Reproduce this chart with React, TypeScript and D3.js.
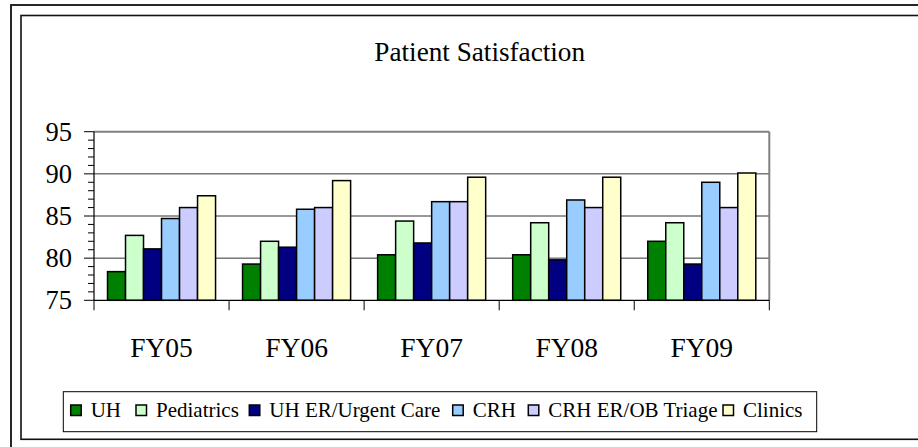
import React from "react";
import * as d3 from "d3";

const categories = ["FY05", "FY06", "FY07", "FY08", "FY09"];
const seriesNames = ["UH", "Pediatrics", "UH ER/Urgent Care", "CRH", "CRH ER/OB Triage", "Clinics"];
const uh = [78.4, 79.3, 80.4, 80.4, 82.0];
const pediatrics = [82.7, 82.0, 84.4, 84.2, 84.2];
const uhEr = [81.1, 81.3, 81.8, 79.8, 79.3];
const crh = [84.7, 85.8, 86.7, 86.9, 89.0];
const crhEr = [86.0, 86.0, 86.7, 86.0, 86.0];
const clinics = [87.4, 89.2, 89.6, 89.6, 90.1];
const yTicks = [75, 80, 85, 90, 95];
const colors = ["#008000", "#CCFFCC", "#000080", "#99CCFF", "#CCCCFF", "#FFFFCC"];
const seriesValues = [uh, pediatrics, uhEr, crh, crhEr, clinics];

const legendX = [70.7, 136, 249.3, 452.7, 528.3, 723];

const FONT = "Liberation Serif, Times New Roman, Times, serif";

export default function App() {
  const W = 918, H = 447;
  const left = 94, right = 769.3, top = 131.7, bottom = 300.3;
  const x = d3.scaleBand<string>().domain(categories).range([left, right]).padding(0);
  const y = d3.scaleLinear().domain([75, 95]).range([bottom, top]);
  const gw = x.bandwidth();
  const bw = gw / 7.5;
  const inner = d3.scaleBand<string>().domain(seriesNames).range([0.75 * bw, 6.75 * bw]).padding(0);
  const minor = d3.range(75, 96, 1).filter((v) => v % 5 !== 0);
  const gridColor = "#333";
  const ts = { fontFamily: FONT };

  return (
    <svg width={W} height={H} style={{ position: "absolute", left: 0, top: 0, background: "#fff", fontFamily: FONT }}>
      <rect x={0} y={0} width={W} height={H} fill="#fff" />
      {/* frames */}
      <rect x={11} y={5} width={1000} height={1000} fill="none" stroke="#111" strokeWidth={1.8} />
      <rect x={21} y={15.5} width={1000} height={423.8} fill="none" stroke="#111" strokeWidth={1.6} />

      {/* title */}
      <text x={479.7} y={61} textAnchor="middle" fontSize={27.2} fill="#000" style={ts}>
        Patient Satisfaction
      </text>

      {/* gridlines */}
      {yTicks.filter((t) => t !== 75 && t !== 95).map((t) => (
        <line key={t} x1={left} x2={right} y1={y(t)} y2={y(t)} stroke={gridColor} strokeWidth={1} />
      ))}
      {/* plot area border top/right */}
      <line x1={left} x2={right} y1={top} y2={top} stroke="#808080" strokeWidth={2} />
      <line x1={right} x2={right} y1={top} y2={bottom} stroke="#808080" strokeWidth={2} />

      {/* bars */}
      {categories.map((c, ci) => (
        <g key={c}>
          {seriesNames.map((s, si) => {
            const v = seriesValues[si][ci];
            return (
              <rect
                key={s}
                x={(x(c) as number) + (inner(s) as number)}
                y={y(v)}
                width={inner.bandwidth()}
                height={bottom - y(v)}
                fill={colors[si]}
                stroke="#000"
                strokeWidth={1.5}
              />
            );
          })}
        </g>
      ))}

      {/* y axis */}
      <line x1={left} x2={left} y1={top} y2={bottom} stroke="#000" strokeWidth={1.2} />
      {yTicks.map((t) => (
        <g key={t}>
          <line x1={left - 10} x2={left} y1={y(t)} y2={y(t)} stroke="#000" strokeWidth={1} />
          <text x={72} y={y(t) + 8.8} textAnchor="end" fontSize={26.5} fill="#000" style={ts}>
            {t}
          </text>
        </g>
      ))}
      {minor.map((t) => (
        <line key={t} x1={left - 6} x2={left} y1={y(t)} y2={y(t)} stroke="#000" strokeWidth={1} />
      ))}

      {/* x axis */}
      <line x1={left} x2={right} y1={bottom} y2={bottom} stroke="#000" strokeWidth={1.2} />
      {[...categories.map((c) => x(c) as number), right].map((px, i) => (
        <line key={i} x1={px} x2={px} y1={bottom} y2={bottom + 10} stroke="#000" strokeWidth={1} />
      ))}
      {categories.map((c) => (
        <text key={c} x={(x(c) as number) + gw / 2} y={356.7} textAnchor="middle" fontSize={27.5} fill="#000" style={ts}>
          {c}
        </text>
      ))}

      {/* legend */}
      <rect x={63.3} y={391.7} width={753.4} height={40} fill="#fff" stroke="#000" strokeWidth={1} />
      {seriesNames.map((s, i) => (
        <g key={s}>
          <rect x={legendX[i]} y={405} width={10.5} height={10.5} fill={colors[i]} stroke="#000" strokeWidth={1.5} />
          <text x={legendX[i] + 20} y={416.5} fontSize={21} fill="#000" style={ts}>
            {s}
          </text>
        </g>
      ))}
    </svg>
  );
}
